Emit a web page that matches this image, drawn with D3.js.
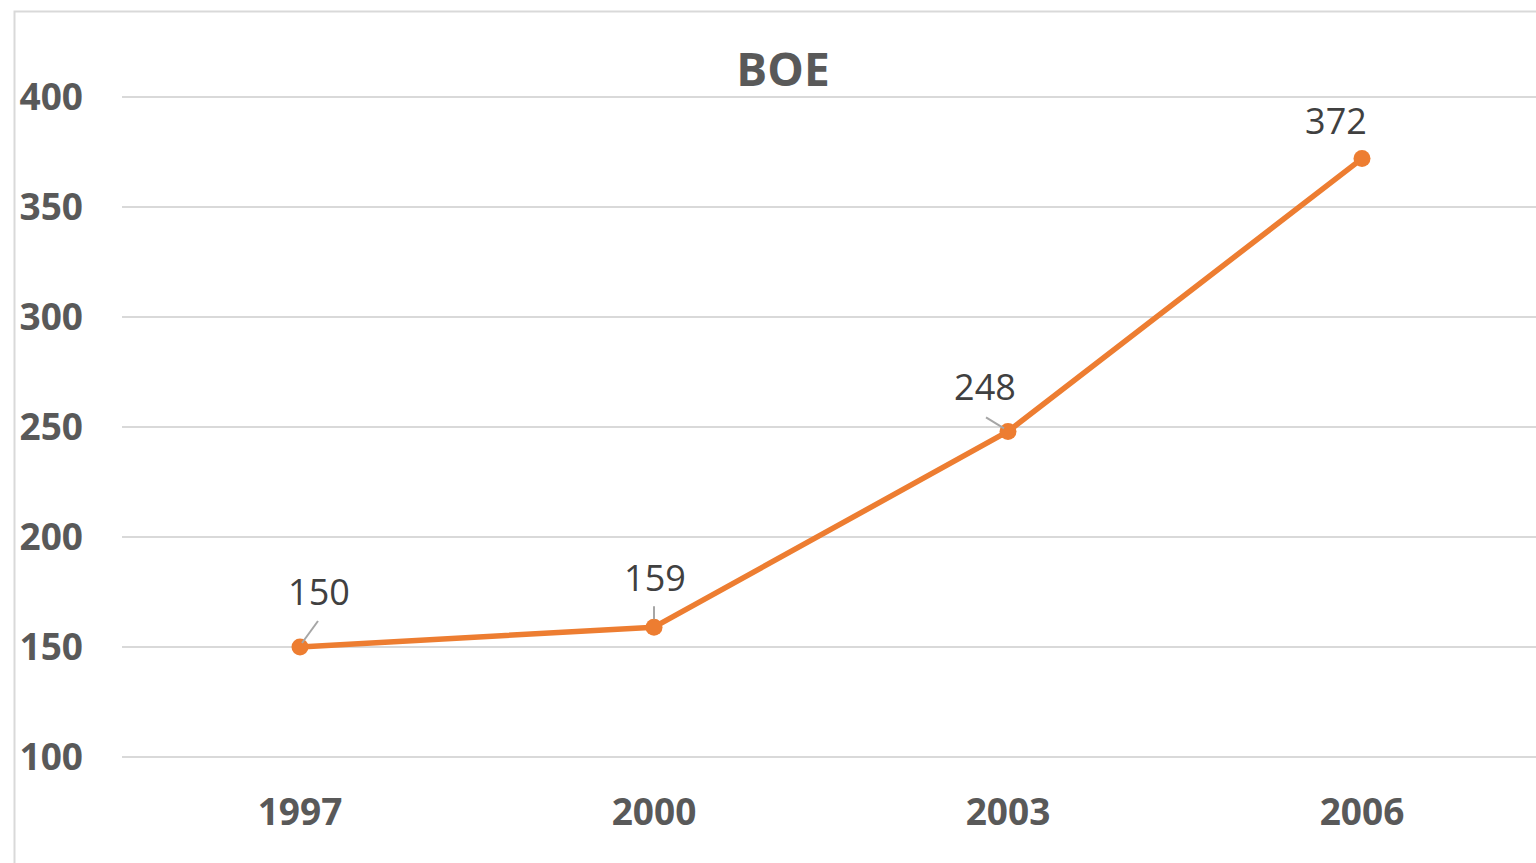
<!DOCTYPE html>
<html>
<head>
<meta charset="utf-8">
<script src="https://cdn.jsdelivr.net/npm/d3@7"></script>
<style>
  html, body { margin: 0; padding: 0; background: #fff; overflow: hidden; }
  svg { display: block; font-family: "Open Sans", sans-serif; }
</style>
</head>
<body>
<svg id="chart" width="1536" height="863"></svg>
<script>
// data
var years = ["1997", "2000", "2003", "2006"];
var values = [150, 159, 248, 372];
var yTicks = [100, 150, 200, 250, 300, 350, 400];
var title = "BOE";

// label placement relative to each point (dx, dy of label baseline centre), and leader lines
var labelOffsets = [[19, -42], [1, -36], [-23, -31], [-26, -25]];
var leaders = [[[2, -4], [18, -26]], [[0, -8], [0, -21]], [[-4, -3], [-22, -14]], null];

var svg = d3.select("#chart");
var width = 1536, height = 863;

// chart area border
svg.append("rect")
    .attr("x", 14.5).attr("y", 11.5)
    .attr("width", width + 20).attr("height", height + 20)
    .attr("fill", "none")
    .attr("stroke", "#d9d9d9")
    .attr("stroke-width", 2);

var x = d3.scaleBand()
    .domain(years)
    .range([122, 1538]);

var y = d3.scaleLinear()
    .domain([100, 400])
    .range([757, 97]);

// gridlines
svg.append("g")
    .selectAll("line")
    .data(yTicks)
    .enter().append("line")
    .attr("x1", 122).attr("x2", width)
    .attr("y1", d => y(d)).attr("y2", d => y(d))
    .attr("stroke", "#d9d9d9")
    .attr("stroke-width", 2);

// y axis labels
svg.append("g")
    .selectAll("text")
    .data(yTicks)
    .enter().append("text")
    .attr("x", 83)
    .attr("y", d => y(d) + 13)
    .attr("text-anchor", "end")
    .attr("font-size", 37)
    .attr("font-weight", "bold")
    .attr("fill", "#595959")
    .text(d => d);

// x axis labels
svg.append("g")
    .selectAll("text")
    .data(years)
    .enter().append("text")
    .attr("x", d => x(d) + x.bandwidth() / 2 + 1)
    .attr("y", 825)
    .attr("text-anchor", "middle")
    .attr("font-size", 37)
    .attr("font-weight", "bold")
    .attr("fill", "#595959")
    .text(d => d);

// title
svg.append("text")
    .attr("x", 783)
    .attr("y", 86)
    .attr("text-anchor", "middle")
    .attr("font-size", 46)
    .attr("font-weight", "bold")
    .attr("fill", "#595959")
    .text(title);

var pts = years.map((yr, i) => ({year: yr, value: values[i], i: i}));
var cx = d => x(d.year) + x.bandwidth() / 2 + 1;

var line = d3.line()
    .x(cx)
    .y(d => y(d.value));

svg.append("path")
    .datum(pts)
    .attr("d", line)
    .attr("fill", "none")
    .attr("stroke", "#ed7d31")
    .attr("stroke-width", 5.5)
    .attr("stroke-linejoin", "round");

svg.append("g")
    .selectAll("circle")
    .data(pts)
    .enter().append("circle")
    .attr("cx", cx)
    .attr("cy", d => y(d.value))
    .attr("r", 8.5)
    .attr("fill", "#ed7d31");

// leader lines
svg.append("g")
    .selectAll("line")
    .data(pts.filter(d => leaders[d.i]))
    .enter().append("line")
    .attr("x1", d => cx(d) + leaders[d.i][0][0])
    .attr("y1", d => y(d.value) + leaders[d.i][0][1])
    .attr("x2", d => cx(d) + leaders[d.i][1][0])
    .attr("y2", d => y(d.value) + leaders[d.i][1][1])
    .attr("stroke", "#a6a6a6")
    .attr("stroke-width", 2);

// data labels
svg.append("g")
    .selectAll("text")
    .data(pts)
    .enter().append("text")
    .attr("x", d => cx(d) + labelOffsets[d.i][0])
    .attr("y", d => y(d.value) + labelOffsets[d.i][1])
    .attr("text-anchor", "middle")
    .attr("font-size", 36)
    .attr("fill", "#404040")
    .text(d => d.value);
</script>
</body>
</html>
